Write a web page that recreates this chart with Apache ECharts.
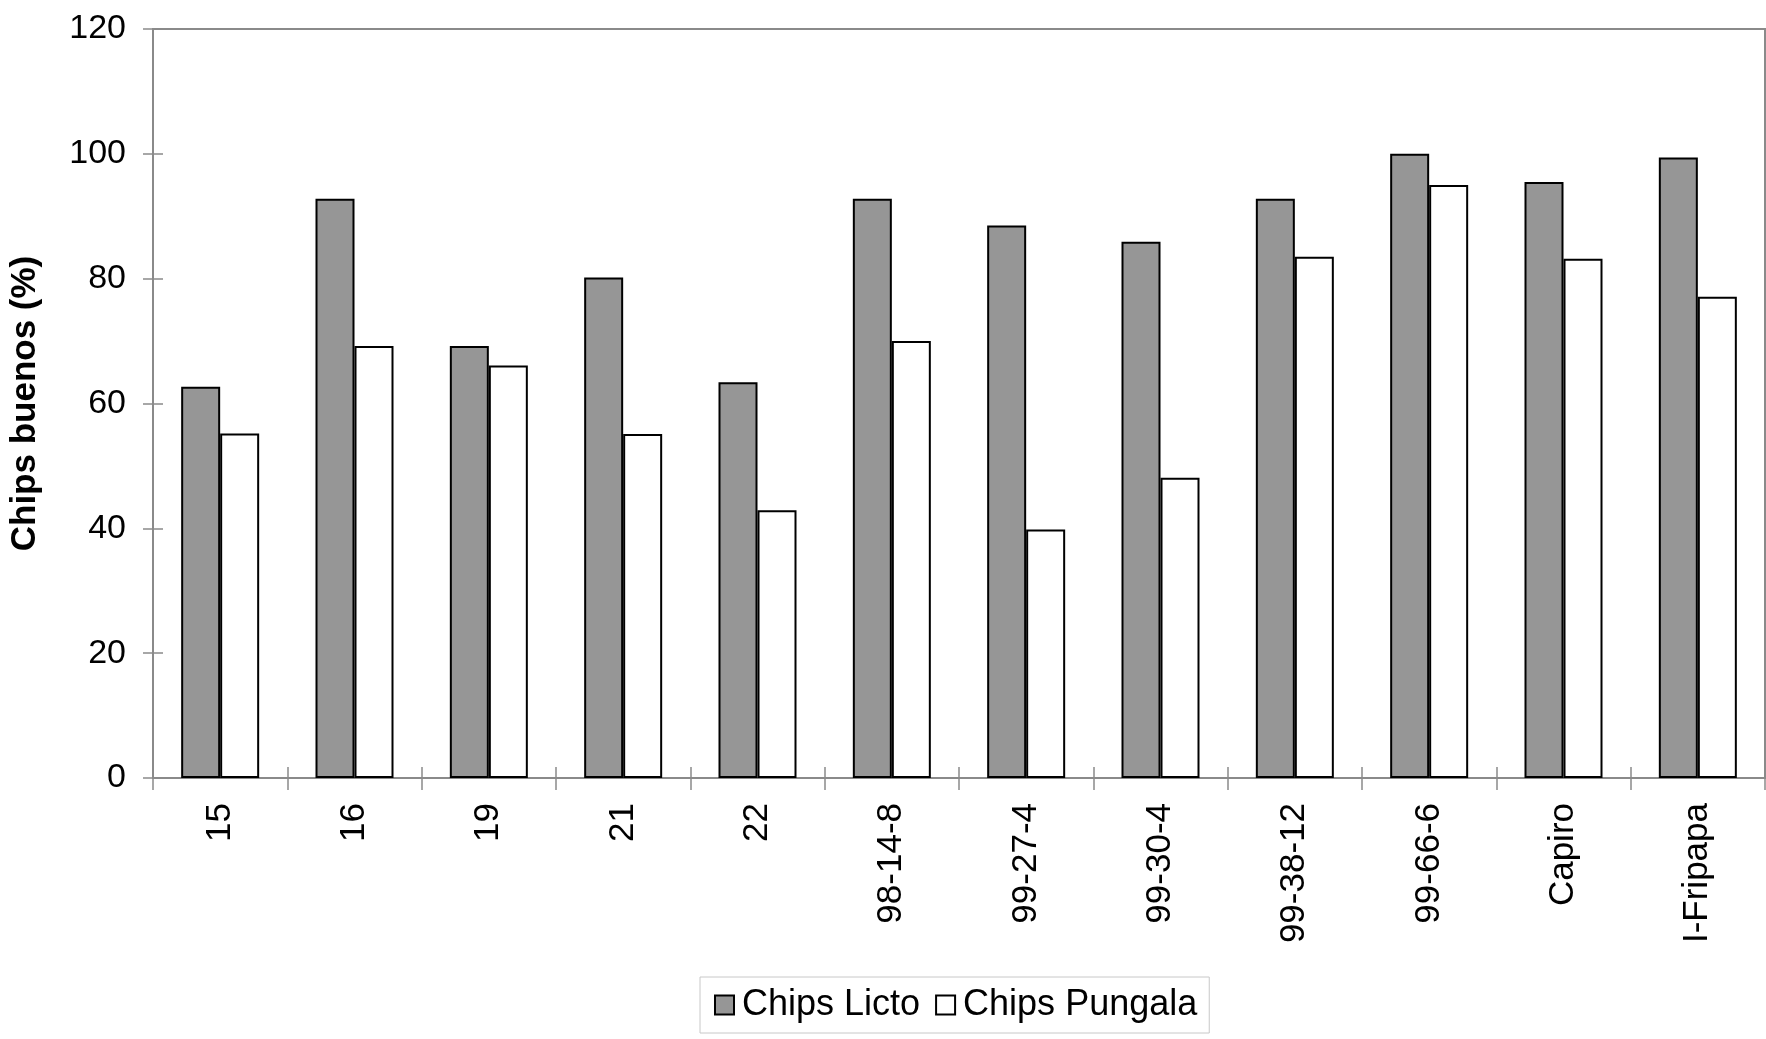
<!DOCTYPE html>
<html>
<head>
<meta charset="utf-8">
<script src="https://cdn.jsdelivr.net/npm/echarts@6/dist/echarts.min.js"></script>
<style>
html,body{margin:0;padding:0;background:#fff;}
#chart{width:1766px;height:1039px;}
</style>
</head>
<body>
<div id="chart"></div>
<script>
const categories = ['15','16','19','21','22','98-14-8','99-27-4','99-30-4','99-38-12','99-66-6','Capiro','I-Fripapa'];
const chipsLicto = [62.7, 92.8, 69.2, 80.2, 63.4, 92.8, 88.5, 85.9, 92.8, 100.0, 95.5, 99.4];
const chipsPungala = [55.2, 69.2, 66.1, 55.1, 42.9, 70.0, 39.8, 48.1, 83.5, 95.0, 83.2, 77.1];
const yTicks = [0, 20, 40, 60, 80, 100, 120];

const FONT = '"Liberation Sans", Arial, sans-serif';
const chart = echarts.init(document.getElementById('chart'), null, {renderer: 'canvas'});
const axisGray = '#8a8a8a';
chart.setOption({
  animation: false,
  backgroundColor: '#ffffff',
  textStyle: {fontFamily: FONT},
  grid: {left: 153, top: 29, right: 1, bottom: 261, show: true, borderColor: axisGray, borderWidth: 2, containLabel: false},
  legend: {
    left: 700, top: 977, width: 540,
    padding: [10, 12, 10, 14],
    borderColor: '#c8c8c8', borderWidth: 1,
    itemWidth: 19, itemHeight: 19, itemGap: 15,
    icon: 'rect',
    textStyle: {fontFamily: FONT, fontSize: 36, color: '#000', padding: [0, 0, 0, 3]},
    data: ['Chips Licto', 'Chips Pungala']
  },
  xAxis: [{
    type: 'category', data: categories,
    axisLine: {lineStyle: {color: axisGray, width: 2}},
    axisTick: {show: true, length: 12, lineStyle: {color: axisGray, width: 1.5}},
    axisLabel: {rotate: 90, fontSize: 35, color: '#000', fontFamily: FONT, margin: 25}
  }, {
    type: 'category', data: categories, position: 'bottom',
    axisLine: {show: false},
    axisTick: {show: true, inside: true, length: 11, lineStyle: {color: axisGray, width: 1.5}},
    axisLabel: {show: false}
  }],
  yAxis: [{
    type: 'value', min: 0, max: 120, interval: 20,
    name: 'Chips buenos (%)', nameLocation: 'middle', nameGap: 110,
    nameTextStyle: {fontSize: 35, fontWeight: 'bold', color: '#000', fontFamily: FONT},
    axisLine: {show: true, lineStyle: {color: axisGray, width: 2}},
    axisTick: {show: true, length: 10, lineStyle: {color: axisGray, width: 1.5}},
    splitLine: {show: false},
    axisLabel: {fontSize: 34, color: '#000', fontFamily: FONT, margin: 27,
      formatter: v => yTicks.includes(v) ? String(v) : ''}
  }, {
    type: 'value', min: 0, max: 120, interval: 20, position: 'left',
    axisLine: {show: false},
    axisTick: {show: true, inside: true, length: 10, lineStyle: {color: axisGray, width: 1.5}},
    splitLine: {show: false},
    axisLabel: {show: false}
  }],
  series: [{
    name: 'Chips Licto', type: 'bar', data: chipsLicto,
    barWidth: 39, barGap: '0%',
    itemStyle: {color: '#969696', borderColor: '#000', borderWidth: 2}
  }, {
    name: 'Chips Pungala', type: 'bar', data: chipsPungala,
    barWidth: 39, barGap: '0%',
    itemStyle: {color: '#ffffff', borderColor: '#000', borderWidth: 2}
  }]
});
</script>
</body>
</html>
